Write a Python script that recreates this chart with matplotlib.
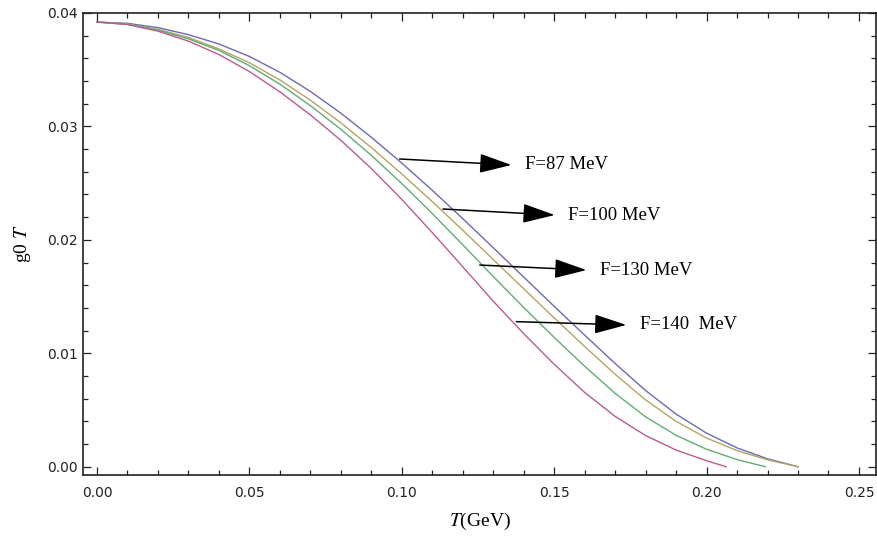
import matplotlib
matplotlib.use("Agg")
import matplotlib.pyplot as plt
from matplotlib.ticker import MultipleLocator, FormatStrFormatter

plt.rcParams["mathtext.fontset"] = "stix"

# -------------------------------
# data
# -------------------------------
T_87 = [0.00, 0.01, 0.02, 0.03, 0.04, 0.05, 0.06, 0.07, 0.08, 0.09, 0.10, 0.11,
        0.12, 0.13, 0.14, 0.15, 0.16, 0.17, 0.18, 0.19, 0.20, 0.21, 0.22, 0.23]
g_87 = [0.03920, 0.03909, 0.03871, 0.03809, 0.03727, 0.03617, 0.03477, 0.03309,
        0.03117, 0.02905, 0.02677, 0.02437, 0.02187, 0.01931, 0.01672, 0.01414,
        0.01160, 0.00910, 0.00672, 0.00464, 0.00296, 0.00166, 0.00070, 0.0]

T_100 = [0.00, 0.01, 0.02, 0.03, 0.04, 0.05, 0.06, 0.07, 0.08, 0.09, 0.10, 0.11,
         0.12, 0.13, 0.14, 0.15, 0.16, 0.17, 0.18, 0.19, 0.20, 0.21, 0.22, 0.23]
g_100 = [0.03920, 0.03903, 0.03856, 0.03784, 0.03683, 0.03561, 0.03410, 0.03232,
         0.03032, 0.02814, 0.02581, 0.02337, 0.02085, 0.01827, 0.01569, 0.01312,
         0.01060, 0.00815, 0.00589, 0.00400, 0.00253, 0.00142, 0.00061, 0.0]

T_130 = [0.00, 0.01, 0.02, 0.03, 0.04, 0.05, 0.06, 0.07, 0.08, 0.09, 0.10, 0.11,
         0.12, 0.13, 0.14, 0.15, 0.16, 0.17, 0.18, 0.19, 0.20, 0.21, 0.2193]
g_130 = [0.03920, 0.03901, 0.03849, 0.03772, 0.03670, 0.03536, 0.03373, 0.03184,
         0.02975, 0.02745, 0.02497, 0.02232, 0.01957, 0.01677, 0.01404, 0.01140,
         0.00886, 0.00647, 0.00440, 0.00277, 0.00154, 0.00063, 0.0]

T_140 = [0.00, 0.01, 0.02, 0.03, 0.04, 0.05, 0.06, 0.07, 0.08, 0.09, 0.10, 0.11,
         0.12, 0.13, 0.14, 0.15, 0.16, 0.17, 0.18, 0.19, 0.20, 0.2064]
g_140 = [0.03920, 0.03898, 0.03840, 0.03752, 0.03634, 0.03484, 0.03305, 0.03102,
         0.02878, 0.02629, 0.02357, 0.02064, 0.01763, 0.01460, 0.01173, 0.00903,
         0.00655, 0.00444, 0.00275, 0.00147, 0.00053, 0.0]

labels = ["F=87 MeV", "F=100 MeV", "F=130 MeV", "F=140  MeV"]
colors = ["#6a6ab8", "#b4a462", "#5eae74", "#bc5a92"]

# arrow tail / head positions (data coords)
tails = [(0.0993, 0.02713), (0.1135, 0.02272), (0.1256, 0.01778), (0.1376, 0.01279)]
heads = [(0.1360, 0.02660), (0.1502, 0.02219), (0.1606, 0.01734), (0.1737, 0.01250)]

# -------------------------------
# plot
# -------------------------------
fig = plt.figure(figsize=(8.77, 5.39), dpi=100)
ax = fig.add_axes([0.0946, 0.1187, 0.9043, 0.8572])

series = [(T_87, g_87), (T_100, g_100), (T_130, g_130), (T_140, g_140)]
for (t, g), c in zip(series, colors):
    ax.plot(t, g, color=c, lw=1.0)

for lab, tl, hd in zip(labels, tails, heads):
    ax.annotate("", xy=hd, xytext=tl,
                arrowprops=dict(arrowstyle="-|>,head_length=1.0,head_width=0.3",
                                mutation_scale=20, color="black", lw=1.1,
                                shrinkA=0, shrinkB=0))
    ax.text(hd[0] + 0.0045, hd[1], lab, family="Liberation Serif",
            fontsize=13.5, va="center", ha="left")

ax.set_xlim(-0.0046, 0.2556)
ax.set_ylim(-0.00073, 0.04)

ax.xaxis.set_major_locator(MultipleLocator(0.05))
ax.xaxis.set_minor_locator(MultipleLocator(0.01))
ax.yaxis.set_major_locator(MultipleLocator(0.01))
ax.yaxis.set_minor_locator(MultipleLocator(0.002))
ax.xaxis.set_major_formatter(FormatStrFormatter("%.2f"))
ax.yaxis.set_major_formatter(FormatStrFormatter("%.2f"))

ax.tick_params(which="both", direction="in", top=True, right=True,
               colors="#222222", labelsize=10, width=0.9)
ax.tick_params(which="major", length=6)
ax.tick_params(which="minor", length=3.3)
ax.tick_params(axis="x", pad=8)
for s in ax.spines.values():
    s.set_linewidth(1.2)
    s.set_color("#222222")

ax.set_xlabel("$T$(GeV)", family="Liberation Serif", fontsize=14, labelpad=8)
ax.set_ylabel("g0 $T$", family="Liberation Serif", fontsize=14, labelpad=10)

fig.savefig("out.png", dpi=100)
